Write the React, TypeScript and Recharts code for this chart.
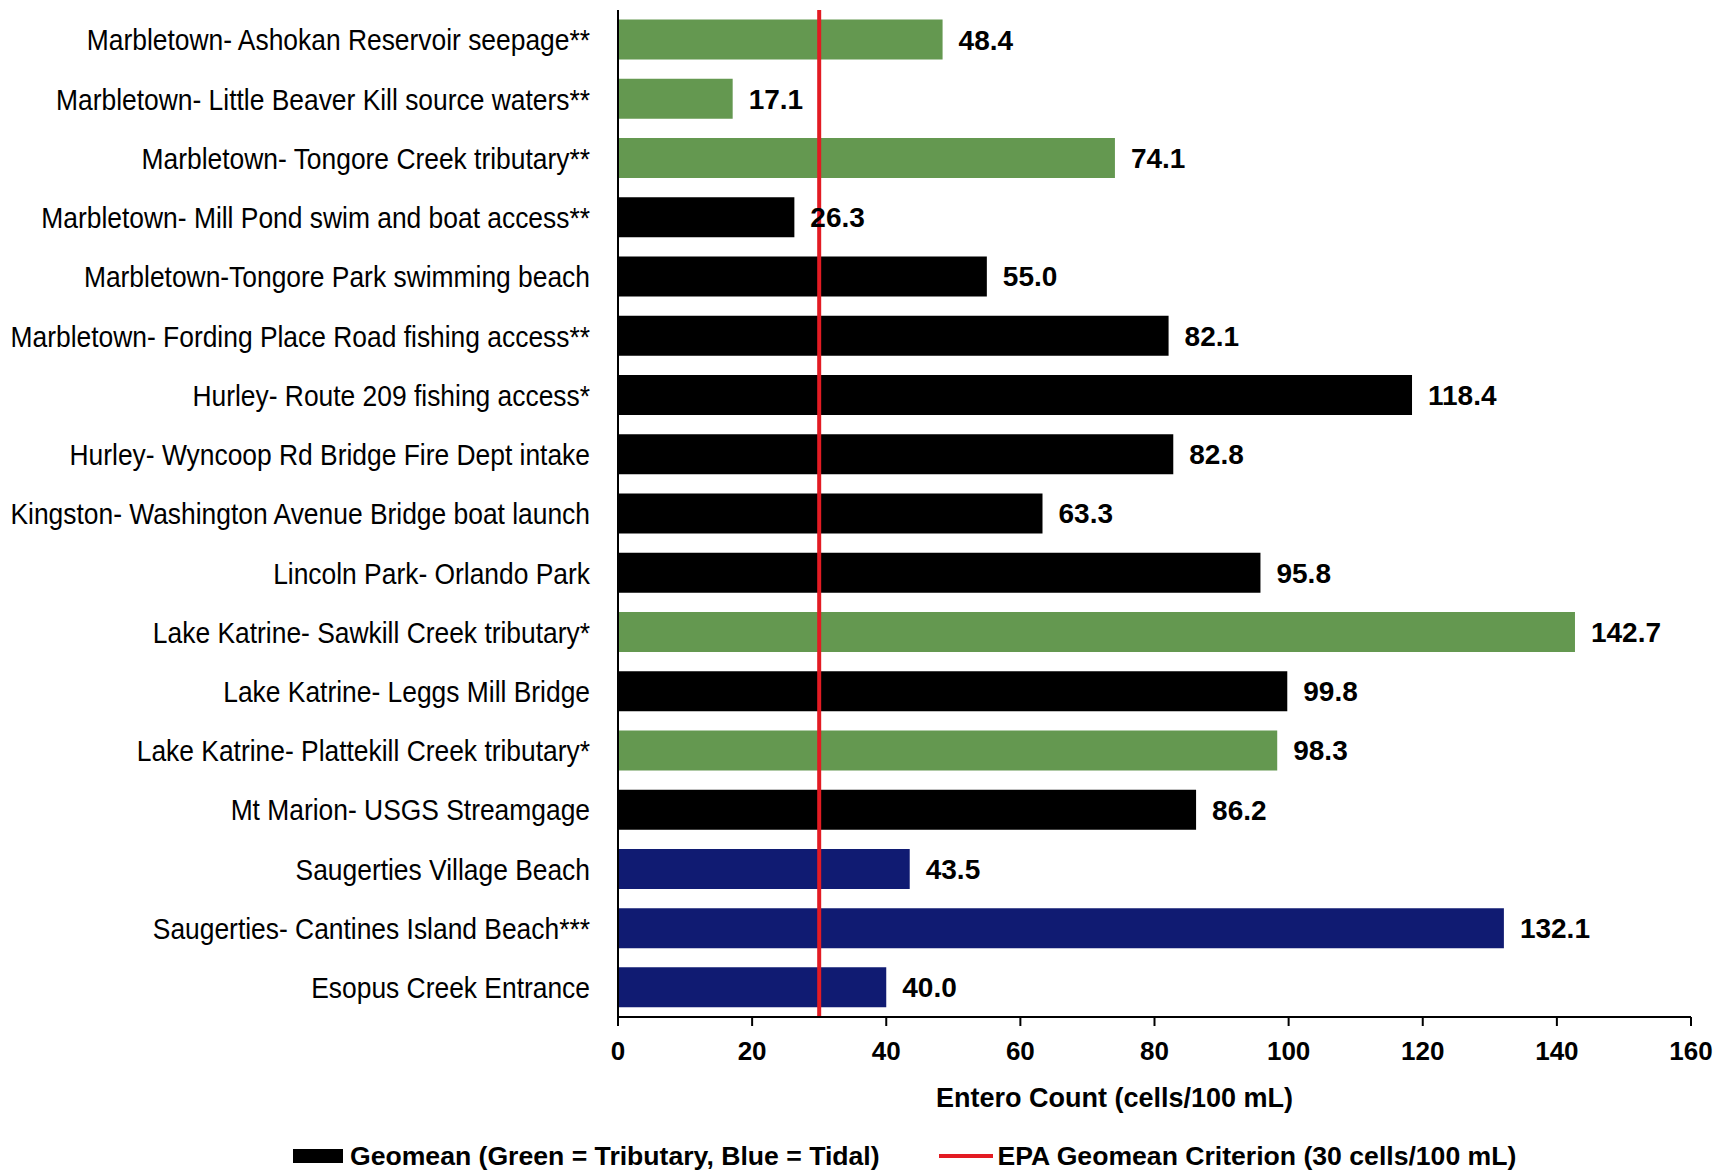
import React from "react";
import {
  BarChart, Bar, XAxis, YAxis, Cell, LabelList, ReferenceLine, Legend, Label
} from "recharts";

if (typeof document !== "undefined") document.body.style.margin = "0";

const sites = [
  "Marbletown- Ashokan Reservoir seepage**",
  "Marbletown- Little Beaver Kill source waters**",
  "Marbletown- Tongore Creek tributary**",
  "Marbletown- Mill Pond swim and boat access**",
  "Marbletown-Tongore Park swimming beach",
  "Marbletown- Fording Place Road fishing access**",
  "Hurley- Route 209 fishing access*",
  "Hurley- Wyncoop Rd Bridge Fire Dept intake",
  "Kingston- Washington Avenue Bridge boat launch",
  "Lincoln Park- Orlando Park",
  "Lake Katrine- Sawkill Creek tributary*",
  "Lake Katrine- Leggs Mill Bridge",
  "Lake Katrine- Plattekill Creek tributary*",
  "Mt Marion- USGS Streamgage",
  "Saugerties Village Beach",
  "Saugerties- Cantines Island Beach***",
  "Esopus Creek Entrance",
];

const geomeans = [48.4, 17.1, 74.1, 26.3, 55.0, 82.1, 118.4, 82.8, 63.3, 95.8, 142.7, 99.8, 98.3, 86.2, 43.5, 132.1, 40.0];

// tributary = green, tidal = blue, main = black
const siteTypes = [
  "tributary", "tributary", "tributary", "main", "main", "main", "main", "main", "main",
  "main", "tributary", "main", "tributary", "main", "tidal", "tidal", "tidal",
];

const xTicks = [0, 20, 40, 60, 80, 100, 120, 140, 160];
const epaCriterion = 30;

const typeColor: Record<string, string> = {
  tributary: "#649850",
  tidal: "#101B72",
  main: "#000000",
};
const RED = "#E31B23";
const FONT = "'Liberation Sans', Arial, sans-serif";

const data = sites.map((name, i) => ({ name, value: geomeans[i], type: siteTypes[i] }));

// no narrow font installed, so squeeze the regular one horizontally
function SiteTick({ x, y, payload }: { x?: number; y?: number; payload?: { value: string } }) {
  return (
    <g transform={`translate(${x},${y}) scale(0.88,1)`}>
      <text x={0} y={0} dy="0.36em" textAnchor="end" fontFamily={FONT} fontSize={30} fill="#000">
        {payload?.value}
      </text>
    </g>
  );
}

function ChartLegend() {
  return (
    <div style={{
      display: "flex", alignItems: "center", height: 34, paddingLeft: 293,
      fontFamily: FONT, fontWeight: 700, fontSize: 26.6, color: "#000", whiteSpace: "nowrap",
    }}>
      <span style={{ display: "inline-block", width: 50, height: 14, background: "#000", marginRight: 7 }} />
      <span>Geomean (Green = Tributary, Blue = Tidal)</span>
      <span style={{ display: "inline-block", width: 54, height: 4, background: RED, marginLeft: 59, marginRight: 5 }} />
      <span>EPA Geomean Criterion (30 cells/100 mL)</span>
    </div>
  );
}

export default function App() {
  return (
    <BarChart
      width={1717}
      height={1173}
      data={data}
      layout="vertical"
      barCategoryGap="16.2%"
      margin={{ top: 10, right: 26, left: 0, bottom: 0 }}
    >
      <XAxis
        type="number"
        domain={[0, 160]}
        ticks={xTicks}
        height={122}
        axisLine={{ stroke: "#000", strokeWidth: 2 }}
        tickLine={{ stroke: "#000", strokeWidth: 2 }}
        tickSize={9}
        tickMargin={16}
        tick={{ fill: "#000", fontSize: 26, fontWeight: 700, fontFamily: FONT }}
      >
        <Label
          value="Entero Count (cells/100 mL)"
          position="insideBottom"
          offset={32}
          dx={-40}
          fill="#000"
          fontSize={27}
          fontWeight={700}
          fontFamily={FONT}
        />
      </XAxis>
      <YAxis
        type="category"
        dataKey="name"
        width={618}
        axisLine={{ stroke: "#000", strokeWidth: 2 }}
        tickLine={false}
        tickSize={0}
        tickMargin={28}
        interval={0}
        tick={<SiteTick />}
      />
      <Bar dataKey="value" isAnimationActive={false}>
        {data.map((d, i) => (
          <Cell key={i} fill={typeColor[d.type]} />
        ))}
        <LabelList
          dataKey="value"
          position="right"
          offset={16}
          formatter={(v: number) => v.toFixed(1)}
          fill="#000"
          fontSize={28}
          fontWeight={700}
          fontFamily={FONT}
        />
      </Bar>
      <ReferenceLine x={epaCriterion} stroke={RED} strokeWidth={4} />
      <Legend verticalAlign="bottom" content={<ChartLegend />} wrapperStyle={{ left: 0, width: 1717 }} />
    </BarChart>
  );
}
